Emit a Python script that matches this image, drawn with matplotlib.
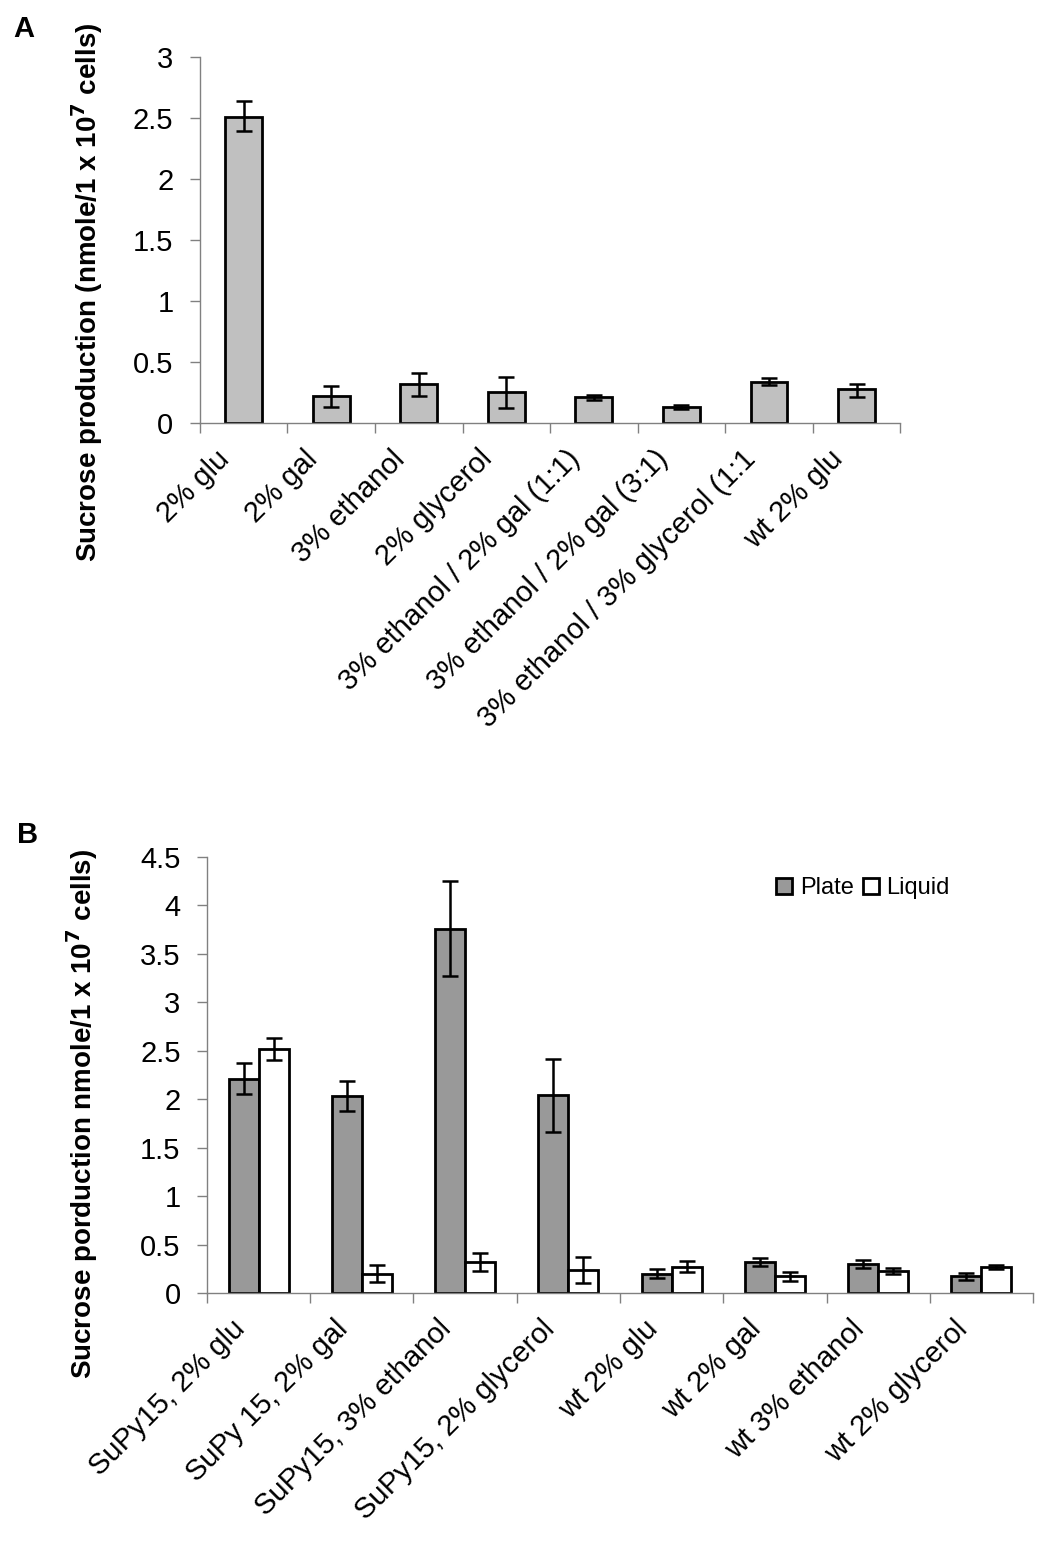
import matplotlib
matplotlib.use("Agg")
import matplotlib.pyplot as plt
import numpy as np
from matplotlib.lines import Line2D
from matplotlib.transforms import ScaledTranslation

plt.rcParams['font.family'] = ['Liberation Sans', 'DejaVu Sans']

# ---------------- Data ----------------
a_labels = ["2% glu", "2% gal", "3% ethanol", "2% glycerol",
            "3% ethanol / 2% gal (1:1)", "3% ethanol / 2% gal (3:1)",
            "3% ethanol / 3% glycerol (1:1", "wt 2% glu"]
a_values = [2.51, 0.22, 0.32, 0.25, 0.21, 0.13, 0.335, 0.28]
a_err_hi = [0.13, 0.08, 0.09, 0.13, 0.02, 0.015, 0.03, 0.04]
a_err_lo = [0.12, 0.09, 0.10, 0.13, 0.02, 0.015, 0.02, 0.065]

b_labels = ["SuPy15, 2% glu", "SuPy 15, 2% gal", "SuPy15, 3% ethanol",
            "SuPy15, 2% glycerol", "wt 2% glu", "wt 2% gal",
            "wt 3% ethanol", "wt 2% glycerol"]
b_plate = [2.21, 2.03, 3.76, 2.04, 0.20, 0.32, 0.30, 0.17]
b_plate_err = [0.16, 0.155, 0.49, 0.375, 0.05, 0.045, 0.04, 0.04]
b_liquid = [2.52, 0.20, 0.32, 0.24, 0.27, 0.17, 0.23, 0.27]
b_liquid_err = [0.115, 0.09, 0.095, 0.135, 0.055, 0.05, 0.03, 0.02]
series_names = ["Plate", "Liquid"]

fig = plt.figure(figsize=(10.63, 15.42), dpi=100)

SPINE = '#808080'

def style_axes(ax, labels, ymax, step, tsize, lsize):
    n = len(labels)
    for s in ['top', 'right']:
        ax.spines[s].set_visible(False)
    for s in ['left', 'bottom']:
        ax.spines[s].set_color(SPINE)
        ax.spines[s].set_linewidth(1.0)
    ax.set_xlim(0, n)
    ax.set_ylim(0, ymax)
    yt = np.arange(0, ymax + 1e-9, step)
    ax.set_yticks(yt)
    ax.set_yticklabels([f"{v:g}" for v in yt], fontsize=tsize)
    ax.tick_params(axis='y', direction='out', length=7, width=1, color=SPINE, pad=12)
    ax.set_xticks(np.arange(n) + 0.5)
    ax.set_xticks(np.arange(n + 1), minor=True)
    ax.tick_params(axis='x', which='major', length=0, pad=10)
    ax.tick_params(axis='x', which='minor', direction='out', length=7, width=1, color=SPINE)
    ax.set_xticklabels(labels, rotation=45, ha='right', va='top', rotation_mode='anchor',
                       fontsize=lsize)
    off = ScaledTranslation(-28 / 100, -8 / 100, fig.dpi_scale_trans)
    for lbl in ax.get_xticklabels():
        lbl.set_transform(lbl.get_transform() + off)

# ---------------- Panel A ----------------
axA = fig.add_axes([0.188, 0.7257, 0.659, 0.2373])
xa = np.arange(len(a_labels)) + 0.5
axA.bar(xa, a_values, width=0.42, color='#c0c0c0', edgecolor='black', linewidth=2.0, zorder=2)
axA.errorbar(xa, a_values, yerr=[a_err_lo, a_err_hi], fmt='none', ecolor='black',
             elinewidth=1.8, capsize=6, capthick=1.8, zorder=3)
style_axes(axA, a_labels, 3, 0.5, 21, 21)
fig.text(87 / 1063, 1 - 292 / 1542, r"Sucrose production (nmole/1 x 10$^\mathbf{7}$ cells)",
         rotation=90, ha='center', va='center', fontsize=20, fontweight='bold')
fig.text(24 / 1063, 1 - 29 / 1542, "A", fontsize=21, fontweight='bold', va='center', ha='center')

# ---------------- Panel B ----------------
axB = fig.add_axes([0.1947, 0.1615, 0.7771, 0.2827])
xb = np.arange(len(b_labels)) + 0.5
w = 0.29
axB.bar(xb - w / 2, b_plate, width=w, color='#999999', edgecolor='black', linewidth=2.0, zorder=2)
axB.bar(xb + w / 2, b_liquid, width=w, color='white', edgecolor='black', linewidth=2.0, zorder=2)
axB.errorbar(xb - w / 2, b_plate, yerr=b_plate_err, fmt='none', ecolor='black',
             elinewidth=1.8, capsize=6, capthick=1.8, zorder=3)
axB.errorbar(xb + w / 2, b_liquid, yerr=b_liquid_err, fmt='none', ecolor='black',
             elinewidth=1.8, capsize=6, capthick=1.8, zorder=3)
style_axes(axB, b_labels, 4.5, 0.5, 21, 21)
fig.text(82 / 1063, 1 - 1114 / 1542, r"Sucrose porduction nmole/1 x 10$^\mathbf{7}$ cells)",
         rotation=90, ha='center', va='center', fontsize=20, fontweight='bold')
fig.text(28 / 1063, 1 - 835 / 1542, "B", fontsize=21, fontweight='bold', va='center', ha='center')

handles = [Line2D([], [], linestyle='none', marker='s', markersize=11, markerfacecolor='#999999',
                  markeredgecolor='black', markeredgewidth=2),
           Line2D([], [], linestyle='none', marker='s', markersize=11, markerfacecolor='white',
                  markeredgecolor='black', markeredgewidth=2)]
axB.legend(handles, series_names, ncol=2, frameon=False, fontsize=17,
           handlelength=0.7, handletextpad=0.3, columnspacing=0.4,
           loc='center', bbox_to_anchor=(863 / 1063, 1 - 888 / 1542),
           bbox_transform=fig.transFigure)

fig.savefig("out.png", dpi=100)
